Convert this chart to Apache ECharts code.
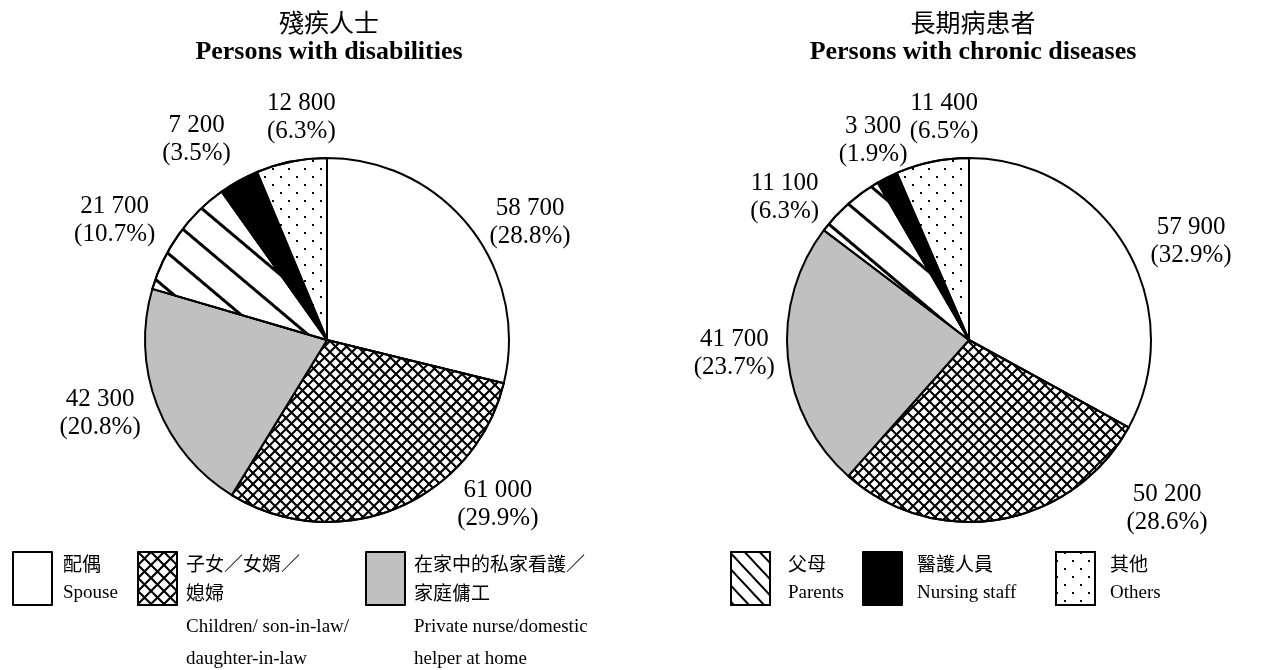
<!DOCTYPE html>
<html>
<head>
<meta charset="utf-8">
<script src="https://cdn.jsdelivr.net/npm/echarts@6/dist/echarts.min.js"></script>
<style>
  html, body { margin: 0; padding: 0; background: #fff; }
  #chart { width: 1277px; height: 670px; }
</style>
</head>
<body>
<div id="chart"></div>
<script>
// ---- data ----
const categories = ['Spouse', 'Children', 'PrivateNurse', 'Parents', 'NursingStaff', 'Others'];
const categoryZh = [['配偶'], ['子女／女婿／', '媳婦'], ['在家中的私家看護／', '家庭傭工'], ['父母'], ['醫護人員'], ['其他']];
const categoryEn = [['Spouse'], ['Children/ son-in-law/', 'daughter-in-law'], ['Private nurse/domestic', 'helper at home'], ['Parents'], ['Nursing staff'], ['Others']];

const disabledValues = [58700, 61000, 42300, 21700, 7200, 12800];
const disabledPct = [28.8, 29.9, 20.8, 10.7, 3.5, 6.3];
const chronicValues = [57900, 50200, 41700, 11100, 3300, 11400];
const chronicPct = [32.9, 28.6, 23.7, 6.3, 1.9, 6.5];

const titlesZh = ['殘疾人士', '長期病患者'];
const titlesEn = ['Persons with disabilities', 'Persons with chronic diseases'];

// ---- layout ----
const SERIF = '"Liberation Serif", "Times New Roman", serif';
const CJK = '"Noto Sans CJK TC", "Noto Sans CJK SC", sans-serif';
const pieCenters = [[327, 340], [969, 340]];
const pieRadius = 182;
const titleX = [329, 973];
// label nudges (px) from the default outside label position, per slice
const labelNudge = [
  [[4, 0], [49, -11], [0, 5], [-8, -9], [5, -34], [55, -36]],
  [[9, -2], [116, -19], [4, -5], [-15, 0], [33, -30], [57, -37]]
];
const legendLeft = [12, 137, 365, 730, 862, 1055];
const legendGap = [6, 4, 4, 13, 10, 10];

// ---- fills ----
const crossHatch = (p) => ({
  symbol: 'path://M0,0L1.5,0L' + p + ',' + (p - 1.5) + 'L' + p + ',' + p + 'L' + (p - 1.5) + ',' + p + 'L0,1.5Z' +
          'M' + p + ',0L' + p + ',1.5L1.5,' + p + 'L0,' + p + 'L0,' + (p - 1.5) + 'L' + (p - 1.5) + ',0Z',
  symbolSize: 1, symbolKeepAspect: false, color: '#000',
  dashArrayX: [[p, 0]], dashArrayY: [p, 0]
});
const hatchLines = (w, gap, rot) => ({
  symbol: 'rect', symbolSize: 1, color: '#000',
  dashArrayX: [[1, 0]], dashArrayY: [w, gap], rotation: rot
});
const dots = {
  symbol: 'rect', symbolSize: 1, color: '#000',
  dashArrayX: [[2, 14], [0, 8, 2, 6]], dashArrayY: [2, 6]
};

const sliceStyle = [
  { color: '#fff' },
  { color: '#fff', decal: crossHatch(11) },
  { color: '#c0c0c0' },
  { color: '#fff', decal: hatchLines(3, 25, 0.7) },
  { color: '#000' },
  { color: '#fff', decal: dots }
];
const legendStyle = [
  { color: '#fff' },
  { color: '#fff', decal: crossHatch(13) },
  { color: '#c0c0c0' },
  { color: '#fff', decal: hatchLines(1.2, 9, 0.82) },
  { color: '#000' },
  { color: '#fff', decal: dots }
];

const fmt = (v) => String(v).replace(/\B(?=(\d{3})+(?!\d))/g, ' ');

function pieSeries(k, values, pct) {
  return {
    type: 'pie',
    center: pieCenters[k],
    radius: pieRadius,
    startAngle: 90,
    clockwise: true,
    avoidLabelOverlap: false,
    silent: true,
    emphasis: { disabled: true },
    itemStyle: { borderColor: '#000', borderWidth: 2 },
    label: {
      show: true,
      position: 'outside',
      formatter: (p) => '{v|' + fmt(values[p.dataIndex]) + '}\n{v|(' + pct[p.dataIndex].toFixed(1) + '%)}',
      rich: { v: { fontFamily: SERIF, fontSize: 25, lineHeight: 28, color: '#000', align: 'center' } }
    },
    labelLine: { show: false, length: 8, length2: 4 },
    labelLayout: (p) => ({ dx: labelNudge[k][p.dataIndex][0], dy: labelNudge[k][p.dataIndex][1] }),
    data: categories.map((n, i) => ({ name: n, value: values[i], itemStyle: sliceStyle[i] }))
  };
}

function legendText(i) {
  const zh = categoryZh[i], en = categoryEn[i];
  if (zh.length === 1) return '{c|' + zh[0] + '}\n{e|' + en[0] + '}';
  return '{c|' + zh[0] + '}\n{c|' + zh[1] + '}\n{g|' + en[0] + '}\n{t|' + en[1] + '}';
}

const legends = categories.map((n, i) => ({
  left: legendLeft[i],
  top: 551,
  padding: 0,
  orient: 'horizontal',
  selectedMode: false,
  icon: 'rect',
  itemWidth: 39,
  itemHeight: 53,
  data: [{ name: n, itemStyle: Object.assign({ borderColor: '#000', borderWidth: 2 }, legendStyle[i]) }],
  formatter: () => legendText(i),
  textStyle: {
    padding: [categoryZh[i].length === 1 ? 0 : 64, 0, 0, legendGap[i]],
    rich: {
      c: { fontFamily: CJK, fontSize: 19, lineHeight: 29, color: '#000' },
      e: { fontFamily: SERIF, fontSize: 19, lineHeight: 29, color: '#000' },
      g: { fontFamily: SERIF, fontSize: 19, lineHeight: 40, color: '#000' },
      t: { fontFamily: SERIF, fontSize: 19, lineHeight: 24, color: '#000' }
    }
  }
}));

const titles = [0, 1].map((k) => ({
  left: titleX[k],
  top: 7,
  padding: 0,
  textAlign: 'center',
  text: '{c|' + titlesZh[k] + '}\n{e|' + titlesEn[k] + '}',
  textStyle: {
    rich: {
      c: { fontFamily: CJK, fontSize: 25, lineHeight: 30, color: '#000', fontWeight: 'normal' },
      e: { fontFamily: SERIF, fontSize: 26, lineHeight: 30, color: '#000', fontWeight: 'bold' }
    }
  }
}));

const chart = echarts.init(document.getElementById('chart'), null, { renderer: 'canvas' });
chart.setOption({
  backgroundColor: '#fff',
  animation: false,
  textStyle: { fontFamily: SERIF },
  title: titles,
  legend: legends,
  series: [pieSeries(0, disabledValues, disabledPct), pieSeries(1, chronicValues, chronicPct)]
});
</script>
</body>
</html>
